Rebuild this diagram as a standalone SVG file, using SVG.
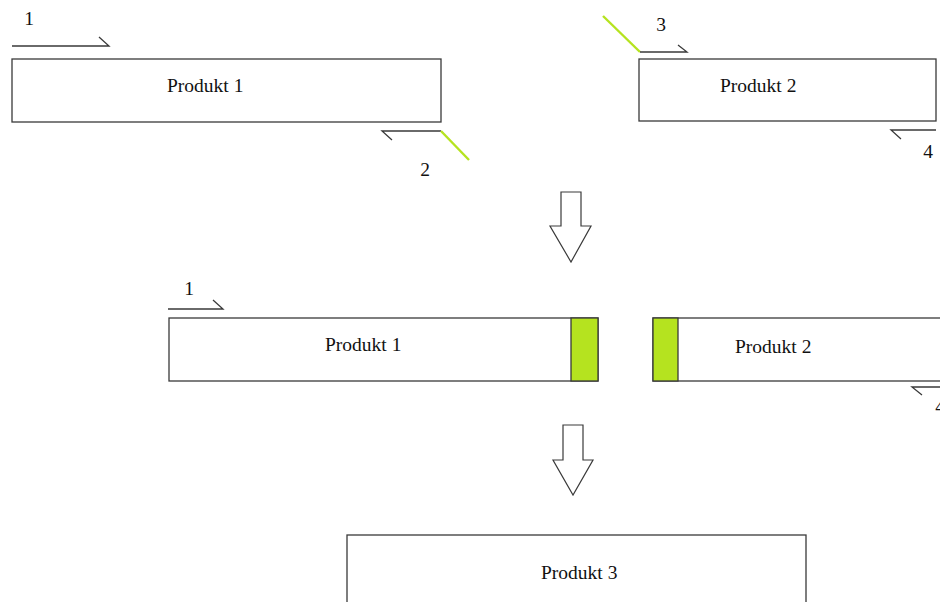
<svg xmlns="http://www.w3.org/2000/svg" width="940" height="602" viewBox="0 0 940 602">
  <style>
    .box { fill: #ffffff; stroke: #3a3a3a; stroke-width: 1.3; }
    .seam { fill: #b5e31f; stroke: #3a3a3a; stroke-width: 1.3; }
    .lbl { font-family: "Liberation Serif", "Times New Roman", serif; font-size: 19.5px; fill: #111111; }
    .num { font-family: "Liberation Serif", "Times New Roman", serif; font-size: 19.5px; fill: #111111; text-anchor: middle; }
    .strand { fill: none; stroke: #3a3a3a; stroke-width: 1.3; }
    .tail { fill: none; stroke: #b5e31f; stroke-width: 2.4; }
    .step { fill: #ffffff; stroke: #3a3a3a; stroke-width: 1.2; stroke-linejoin: miter; }
  </style>
  <rect width="940" height="602" fill="#ffffff"/>

  <!-- Top row: two separate products with overhangs -->
  <g id="produkt1-top">
    <rect class="box" x="12" y="59" width="429" height="63"/>
    <text class="lbl" x="167" y="92">Produkt 1</text>
  </g>
  <g id="produkt2-top">
    <rect class="box" x="639" y="59" width="297" height="62"/>
    <text class="lbl" x="720" y="92">Produkt 2</text>
  </g>

  <!-- Middle row: products with green ends -->
  <g id="produkt1-mid">
    <rect class="box" x="169" y="318" width="429" height="63"/>
    <rect class="seam" x="571" y="318" width="27" height="63"/>
    <text class="lbl" x="325" y="351">Produkt 1</text>
  </g>
  <g id="produkt2-mid">
    <rect class="box" x="653" y="318" width="300" height="63"/>
    <rect class="seam" x="653" y="318" width="25" height="63"/>
    <text class="lbl" x="735" y="353">Produkt 2</text>
  </g>

  <!-- Bottom row: joined product -->
  <g id="produkt3">
    <rect class="box" x="347" y="535" width="459" height="80"/>
    <text class="lbl" x="541" y="579">Produkt 3</text>
  </g>

  <!-- Strand arrows, tails and step arrows -->
  <g id="connectors">
    <!-- strand 1, top -->
    <path class="strand" d="M12 46 H109 L99 37"/>
    <text class="num" x="29" y="25">1</text>
    <!-- strand 2, top -->
    <path class="strand" d="M441 131 H382 L392 140"/>
    <path class="tail" d="M441 131 L469 160"/>
    <text class="num" x="425" y="176">2</text>
    <!-- strand 3, top -->
    <path class="tail" d="M603 16 L640 52"/>
    <path class="strand" d="M640 52 H687 L678 45"/>
    <text class="num" x="661" y="31">3</text>
    <!-- strand 4, top -->
    <path class="strand" d="M936 130 H891 L901 139"/>
    <text class="num" x="928" y="158">4</text>

    <!-- step arrow 1 -->
    <path class="step" d="M561 192 H581 V226 H591 L571 262 L550 226 H561 Z"/>

    <!-- strand 1, middle -->
    <path class="strand" d="M168 309 H223 L213 300"/>
    <text class="num" x="189" y="295">1</text>
    <!-- strand 4, middle -->
    <path class="strand" d="M945 387 H912 L922 395"/>
    <text class="num" x="940" y="413">4</text>

    <!-- step arrow 2 -->
    <path class="step" d="M563 425 H583 V460 H593 L573 495 L553 460 H563 Z"/>
  </g>
</svg>
